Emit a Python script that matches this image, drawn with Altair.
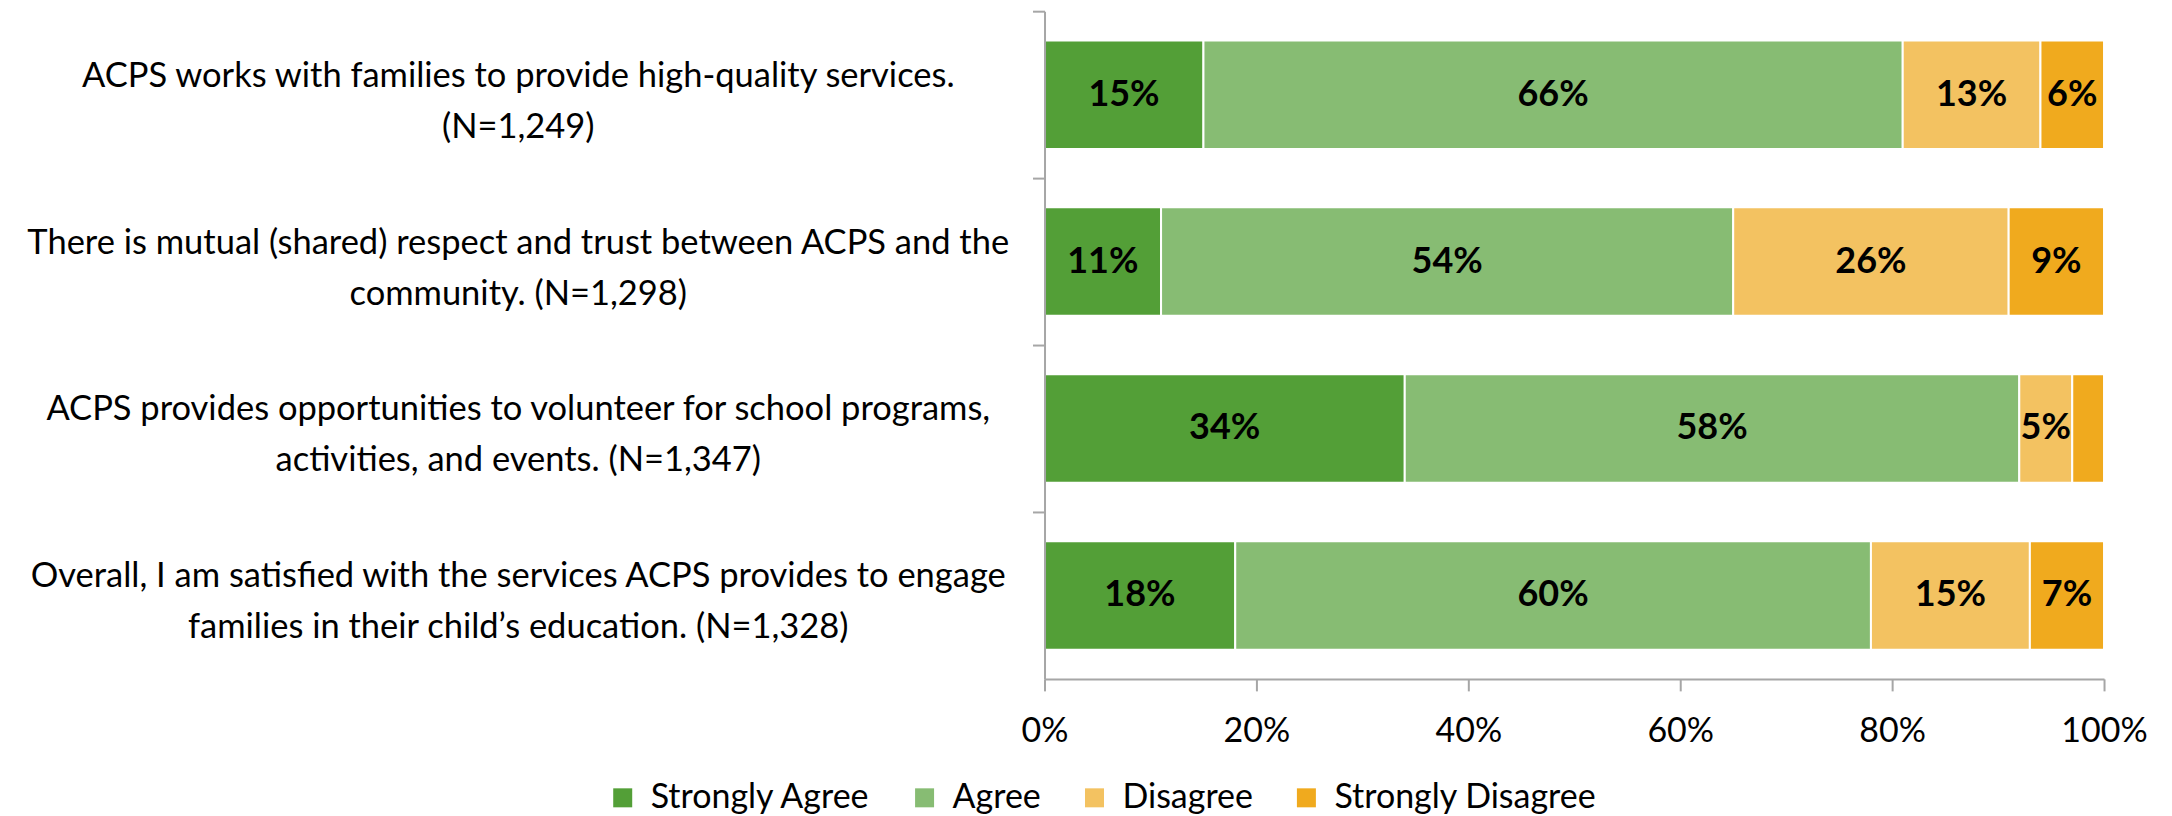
import altair as alt
import pandas as pd

# Question labels (two lines each)
line1 = [
    "ACPS works with families to provide high-quality services.",
    "There is mutual (shared) respect and trust between ACPS and the",
    "ACPS provides opportunities to volunteer for school programs,",
    "Overall, I am satisfied with the services ACPS provides to engage",
]
line2 = [
    "(N=1,249)",
    "community. (N=1,298)",
    "activities, and events. (N=1,347)",
    "families in their child\u2019s education. (N=1,328)",
]
responses = ["Strongly Agree", "Agree", "Disagree", "Strongly Disagree"]
colors = ["#539F37", "#87BC73", "#F3C261", "#F0AA1E"]

strongly_agree = [15, 11, 34, 18]
agree = [66, 54, 58, 60]
disagree = [13, 26, 5, 15]
strongly_disagree = [6, 9, 3, 7]
# data labels shown in the chart (False = not shown)
label_shown = [
    [True, True, True, True],
    [True, True, True, True],
    [True, True, True, False],
    [True, True, True, True],
]
x_ticks = [0, 20, 40, 60, 80, 100]

questions = [a + "|" + b for a, b in zip(line1, line2)]
series = [strongly_agree, agree, disagree, strongly_disagree]

rows = []
for i, q in enumerate(questions):
    for j, r in enumerate(responses):
        v = series[j][i]
        rows.append({
            "question": q,
            "response": r,
            "order": j,
            "value": v,
            "label": f"{v}%" if label_shown[i][j] else "",
        })
df = pd.DataFrame(rows)

FONT = "Lato"
GRAY = "#A6A6A6"
PAD_INNER = 0.35

base = alt.Chart(df).transform_stack(
    stack="value", groupby=["question"], as_=["x0", "x1"],
    sort=[alt.SortField("order", order="ascending")]
).transform_calculate(mid="(datum.x0 + datum.x1) / 2")

y_enc = alt.Y(
    "question:N", sort=questions,
    scale=alt.Scale(paddingInner=PAD_INNER, paddingOuter=PAD_INNER / 2),
    axis=alt.Axis(
        title=None,
        labelExpr="split(datum.label, '|')",
        labelAlign="center",
        labelBaseline="middle",
        labelPadding=515,
        labelOffset=-18,
        labelLimit=2000,
        labelFont=FONT,
        labelFontSize=34.5,
        labelColor="black",
        labelLineHeight=51,
        bandPosition=-(PAD_INNER / 2) / (1 - PAD_INNER),
        tickSize=12,
        tickColor=GRAY,
        tickWidth=2,
        domainColor=GRAY,
        domainWidth=2,
        zindex=1,
    ),
)

bars = base.mark_bar(stroke="white", strokeWidth=2).encode(
    x=alt.X(
        "x0:Q",
        scale=alt.Scale(domain=[0, 100], nice=False),
        axis=alt.Axis(
            title=None,
            values=x_ticks,
            labelExpr="datum.value + '%'",
            labelFlush=False,
            tickSize=12,
            tickColor=GRAY,
            tickWidth=2,
            domainColor=GRAY,
            domainWidth=2,
            grid=False,
            labelPadding=24,
            labelFont=FONT,
            labelFontSize=34,
            labelColor="black",
            labelBaseline="top",
            zindex=1,
        ),
    ),
    x2="x1:Q",
    y=y_enc,
    color=alt.Color(
        "response:N",
        scale=alt.Scale(domain=responses, range=colors),
        legend=alt.Legend(
            title=None,
            orient="none",
            legendX=-439,
            legendY=770,
            direction="horizontal",
            symbolType="square",
            symbolSize=361,
            symbolStrokeWidth=0,
            symbolOpacity=1,
            labelFont=FONT,
            labelFontSize=34,
            labelColor="black",
            labelOffset=11,
            columnPadding=36,
            labelLimit=1000,
        ),
    ),
    order=alt.Order("order:Q"),
)

text = base.mark_text(
    font=FONT, fontWeight="bold", fontSize=36, color="black", baseline="middle"
).encode(
    x=alt.X("mid:Q"),
    y=alt.Y("question:N", sort=questions),
    text="label:N",
)

chart = alt.layer(bars, text).properties(
    width=1060,
    height=668,
    autosize=alt.AutoSizeParams(type="none"),
    padding={"left": 1037, "top": 3, "right": 60, "bottom": 150},
    background="white",
).configure_view(stroke=None)

chart.save("out.html", embed_options={"renderer": "svg", "actions": False})
